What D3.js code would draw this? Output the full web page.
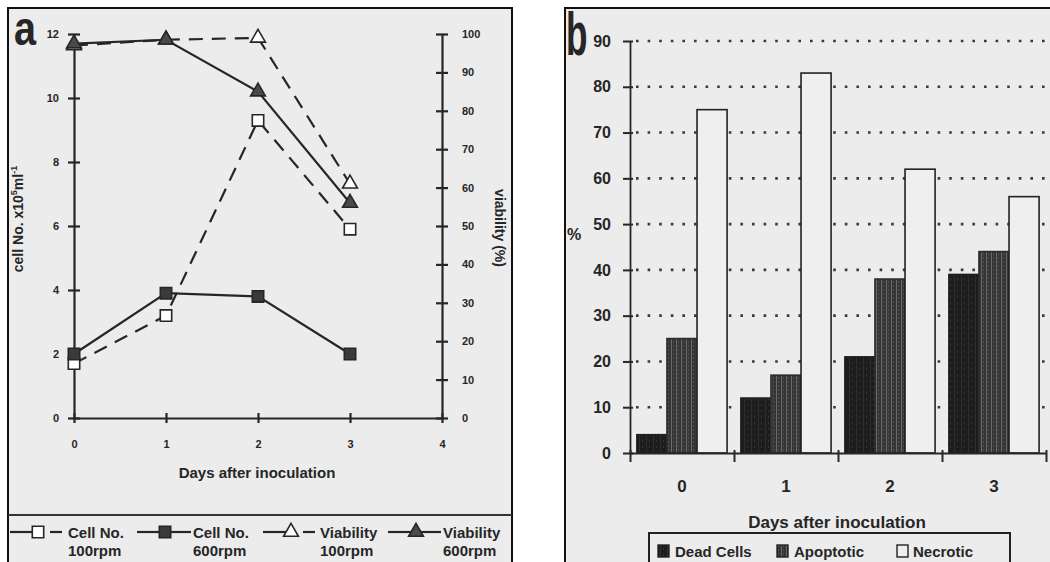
<!DOCTYPE html>
<html>
<head>
<meta charset="utf-8">
<script src="https://cdn.jsdelivr.net/npm/d3@7"></script>
<style>
  html, body { margin: 0; padding: 0; background: #ffffff; }
  svg { display: block; }
  text { font-family: "Liberation Sans", Arial, sans-serif; font-weight: bold; fill: #262626; }
</style>
</head>
<body>
<svg id="chart" width="1050" height="562"></svg>
<script>
// ---------- Data: panel a ----------
const days = [0, 1, 2, 3];
const cellNo100 = [1.7, 3.2, 9.3, 5.9];
const cellNo600 = [2.0, 3.9, 3.8, 2.0];
const viability100 = [97, 98.5, 99, 61];
const viability600 = [97.5, 98.5, 85, 56];
const cellTicks = [0, 2, 4, 6, 8, 10, 12];
const viabilityTicks = [0, 10, 20, 30, 40, 50, 60, 70, 80, 90, 100];
const dayTicks = [0, 1, 2, 3, 4];

// ---------- Data: panel b ----------
const categories = ["0", "1", "2", "3"];
const seriesNames = ["Dead Cells", "Apoptotic", "Necrotic"];
const deadCells = [4, 12, 21, 39];
const apoptotic = [25, 17, 38, 44];
const necrotic = [75, 83, 62, 56];
const percentTicks = [0, 10, 20, 30, 40, 50, 60, 70, 80, 90];

const svg = d3.select("#chart");
const ink = "#262626";

// patterns for textured bars
const defs = svg.append("defs");
const pd = defs.append("pattern").attr("id", "deadPat").attr("patternUnits", "userSpaceOnUse").attr("width", 7).attr("height", 6);
pd.append("rect").attr("width", 7).attr("height", 6).attr("fill", "#1d1d1d");
pd.append("rect").attr("x", 2).attr("width", 1).attr("height", 6).attr("fill", "#2e2e2e");
pd.append("rect").attr("x", 5).attr("y", 2).attr("width", 1).attr("height", 2).attr("fill", "#333");
const pa = defs.append("pattern").attr("id", "apopPat").attr("patternUnits", "userSpaceOnUse").attr("width", 5).attr("height", 4);
pa.append("rect").attr("width", 5).attr("height", 4).attr("fill", "#353535");
pa.append("rect").attr("x", 1).attr("width", 1).attr("height", 4).attr("fill", "#6a6a6a");
pa.append("rect").attr("x", 3).attr("y", 1).attr("width", 1).attr("height", 2).attr("fill", "#505050");

// ---------- Panel frames ----------
svg.append("rect").attr("x", 8).attr("y", 8).attr("width", 504).attr("height", 570)
  .attr("fill", "#ececec").attr("stroke", "#111").attr("stroke-width", 2);
svg.append("rect").attr("x", 565).attr("y", 8).attr("width", 500).attr("height", 570)
  .attr("fill", "#ececec").attr("stroke", "#111").attr("stroke-width", 2);

// ================= PANEL A =================
const xA = d3.scaleLinear().domain([0, 4]).range([74, 442]);
const yCell = d3.scaleLinear().domain([0, 12]).range([418, 34]);
const yVia = d3.scaleLinear().domain([0, 100]).range([418, 34]);

function styleAxis(g, size) {
  g.attr("font-family", null).attr("font-size", null);
  g.selectAll("text").attr("font-size", size).attr("fill", ink);
  g.selectAll("path.domain").attr("stroke", ink).attr("stroke-width", 2.2);
  g.selectAll(".tick line").attr("stroke", ink).attr("stroke-width", 2.2);
}

// left axis
svg.append("g").attr("transform", "translate(74,0)")
  .call(d3.axisLeft(yCell).tickValues(cellTicks).tickSizeInner(5).tickSizeOuter(0).tickPadding(10))
  .call(g => { styleAxis(g, 11); g.selectAll(".tick line").attr("x1", -6).attr("x2", 6); });
// right axis
svg.append("g").attr("transform", "translate(442,0)")
  .call(d3.axisRight(yVia).tickValues(viabilityTicks).tickSizeInner(5).tickSizeOuter(0).tickPadding(15))
  .call(g => { styleAxis(g, 11); g.selectAll(".tick line").attr("x1", -6).attr("x2", 6); });
// x axis
svg.append("g").attr("transform", "translate(0,418)")
  .call(d3.axisBottom(xA).tickValues(dayTicks).tickFormat(d3.format("d")).tickSizeInner(5).tickSizeOuter(0).tickPadding(17))
  .call(g => { styleAxis(g, 11); g.selectAll(".tick line").attr("y1", -5).attr("y2", 5); });

// axis titles
svg.append("text").attr("x", 257).attr("y", 478).attr("text-anchor", "middle")
  .attr("font-size", 15).text("Days after inoculation");
const lt = svg.append("text").attr("transform", "translate(23,219) rotate(-90)")
  .attr("text-anchor", "middle").attr("font-size", 14);
lt.append("tspan").text("cell No. x10");
lt.append("tspan").attr("font-size", 9).attr("dy", -6).text("5");
lt.append("tspan").attr("dy", 6).text("ml");
lt.append("tspan").attr("font-size", 9).attr("dy", -6).text("-1");
svg.append("text").attr("transform", "translate(495,228) rotate(90)")
  .attr("text-anchor", "middle").attr("font-size", 14).text("viability (%)");

svg.append("text").attr("transform", "translate(14,45) scale(1.1,1.35)")
  .attr("font-size", 36).attr("fill", "#2a2a2a").text("a");

// series
const dashed = "14,9";
const lineSeries = [
  { vals: viability100, y: yVia, dash: dashed, marker: "tri", fill: "#ffffff" },
  { vals: cellNo100, y: yCell, dash: dashed, marker: "sq", fill: "#ffffff" },
  { vals: viability600, y: yVia, dash: null, marker: "tri", fill: "#4a4a4a" },
  { vals: cellNo600, y: yCell, dash: null, marker: "sq", fill: "#3a3a3a" }
];
const sqSym = d3.symbol().type(d3.symbolSquare).size(130);
const triSym = d3.symbol().type(d3.symbolTriangle).size(95);

lineSeries.forEach(s => {
  const line = d3.line().x((d, i) => xA(days[i])).y(d => s.y(d));
  svg.append("path").datum(s.vals).attr("d", line)
    .attr("fill", "none").attr("stroke", ink).attr("stroke-width", 2.2)
    .attr("stroke-dasharray", s.dash);
});
lineSeries.forEach(s => {
  svg.selectAll(null).data(s.vals).enter().append("path")
    .attr("transform", (d, i) => `translate(${xA(days[i])},${s.y(d)})`)
    .attr("d", s.marker === "sq" ? sqSym : triSym)
    .attr("fill", s.fill).attr("stroke", ink).attr("stroke-width", 1.6);
});

// legend a
svg.append("line").attr("x1", 8).attr("x2", 512).attr("y1", 515).attr("y2", 515)
  .attr("stroke", "#333").attr("stroke-width", 2);
const legA = [
  { x: 10, marker: "sq", fill: "#ffffff", dashed: true, l1: "Cell No.", l2: "100rpm", tx: 68 },
  { x: 137, marker: "sq", fill: "#3a3a3a", dashed: false, l1: "Cell No.", l2: "600rpm", tx: 193 },
  { x: 263, marker: "tri", fill: "#ffffff", dashed: true, l1: "Viability", l2: "100rpm", tx: 320 },
  { x: 388, marker: "tri", fill: "#4a4a4a", dashed: false, l1: "Viability", l2: "600rpm", tx: 443 }
];
legA.forEach(L => {
  const y = 532, mx = L.x + 28;
  svg.append("line").attr("x1", L.x).attr("x2", mx).attr("y1", y).attr("y2", y).attr("stroke", ink).attr("stroke-width", 2.2);
  if (L.dashed) {
    svg.append("line").attr("x1", mx + 12).attr("x2", mx + 24).attr("y1", y).attr("y2", y).attr("stroke", ink).attr("stroke-width", 2.2);
  } else {
    svg.append("line").attr("x1", mx).attr("x2", L.tx - 2).attr("y1", y).attr("y2", y).attr("stroke", ink).attr("stroke-width", 2.2);
  }
  svg.append("path").attr("transform", `translate(${mx},${y})`)
    .attr("d", L.marker === "sq" ? sqSym : triSym)
    .attr("fill", L.fill).attr("stroke", ink).attr("stroke-width", 1.6);
  svg.append("text").attr("x", L.tx).attr("y", 538).attr("font-size", 15).text(L.l1);
  svg.append("text").attr("x", L.tx).attr("y", 556).attr("font-size", 15).text(L.l2);
});

// ================= PANEL B =================
const xB = d3.scaleBand().domain(categories).range([630, 1046]).padding(0);
const xInner = d3.scaleBand().domain(seriesNames).range([0, xB.bandwidth()]).paddingInner(0).paddingOuter(0.23);
const yB = d3.scaleLinear().domain([0, 90]).range([453, 41]);
const xBounds = d3.scaleLinear().domain([0, categories.length]).range([630, 1046]);

// dotted gridlines
svg.append("g").selectAll("line").data(percentTicks.filter(d => d > 0)).enter().append("line")
  .attr("x1", 636).attr("x2", 1048).attr("y1", d => yB(d)).attr("y2", d => yB(d))
  .attr("stroke", "#3a3a3a").attr("stroke-width", 2.6).attr("stroke-dasharray", "2.6,9");

// bars
const barSeries = [
  { name: "Dead Cells", vals: deadCells, fill: "url(#deadPat)", stroke: "#1d1d1d" },
  { name: "Apoptotic", vals: apoptotic, fill: "url(#apopPat)", stroke: "#2c2c2c" },
  { name: "Necrotic", vals: necrotic, fill: "#efefef", stroke: "#222" }
];
barSeries.forEach(s => {
  svg.append("g").selectAll("rect").data(s.vals).enter().append("rect")
    .attr("x", (d, i) => xB(categories[i]) + xInner(s.name))
    .attr("width", xInner.bandwidth())
    .attr("y", d => yB(d))
    .attr("height", d => yB(0) - yB(d))
    .attr("fill", s.fill).attr("stroke", s.stroke).attr("stroke-width", 1.6);
});

// y axis b
svg.append("g").attr("transform", "translate(630,0)")
  .call(d3.axisLeft(yB).tickValues(percentTicks).tickSizeInner(6).tickSizeOuter(0).tickPadding(13))
  .call(g => { styleAxis(g, 16); g.selectAll("path.domain").attr("stroke-width", 1.8);
    g.selectAll(".tick line").attr("x1", -7).attr("x2", 3).attr("stroke-width", 2); });
// x axis b (boundary ticks)
svg.append("g").attr("transform", "translate(0,453)")
  .call(d3.axisBottom(xBounds).tickValues(d3.range(categories.length + 1)).tickFormat("").tickSizeInner(9).tickSizeOuter(0))
  .call(g => { styleAxis(g, 16); g.selectAll("path.domain").attr("stroke-width", 2);
    g.selectAll(".tick line").attr("y1", -3).attr("y2", 9).attr("stroke-width", 2); });
// x labels b
svg.append("g").attr("transform", "translate(0,453)")
  .call(d3.axisBottom(xB).tickSize(0).tickPadding(27))
  .call(g => { styleAxis(g, 17); g.select("path.domain").remove(); });

svg.append("text").attr("x", 837).attr("y", 528).attr("text-anchor", "middle")
  .attr("font-size", 17).text("Days after inoculation");
svg.append("text").attr("x", 567).attr("y", 240).attr("font-size", 16).text("%");
svg.append("text").attr("transform", "translate(566,55) scale(0.8,1.4)")
  .attr("font-size", 44).attr("fill", "#1e1e1e").text("b");

// legend b
svg.append("rect").attr("x", 649).attr("y", 533).attr("width", 361).attr("height", 40)
  .attr("fill", "#ececec").attr("stroke", "#222").attr("stroke-width", 2);
const legB = [
  { name: "Dead Cells", x: 658, fill: "url(#deadPat)", tx: 675 },
  { name: "Apoptotic", x: 777, fill: "url(#apopPat)", tx: 794 },
  { name: "Necrotic", x: 897, fill: "#efefef", tx: 913 }
];
legB.forEach(L => {
  svg.append("rect").attr("x", L.x).attr("y", 545).attr("width", 11).attr("height", 12)
    .attr("fill", L.fill).attr("stroke", "#222").attr("stroke-width", 1.4);
  svg.append("text").attr("x", L.tx).attr("y", 557).attr("font-size", 15).text(L.name);
});
</script>
</body>
</html>
